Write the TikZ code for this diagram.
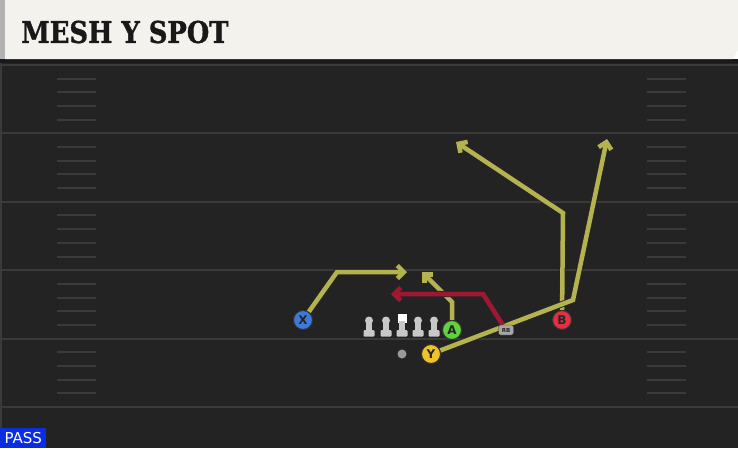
\documentclass[tikz,border=0pt]{standalone}
\usepackage{fontspec}
\usetikzlibrary{arrows.meta}
\newfontfamily\titlefont[BoldFeatures={FakeBold=1.2}]{DejaVu Serif}
\newfontfamily\labelfont{DejaVu Sans}
\newlength{\du}
\setlength{\du}{1pt}
\definecolor{fieldcolor}{RGB}{35,35,35}
\definecolor{headercolor}{RGB}{244,242,236}
\definecolor{yardcolor}{RGB}{58,58,58}
\definecolor{routecolor}{RGB}{181,178,80}
\definecolor{blockcolor}{RGB}{158,24,50}
\definecolor{xplayer}{RGB}{62,122,220}
\definecolor{aplayer}{RGB}{96,210,62}
\definecolor{yplayer}{RGB}{240,194,42}
\definecolor{bplayer}{RGB}{226,48,62}
\definecolor{linemancolor}{RGB}{200,200,200}
\definecolor{passcolor}{RGB}{10,45,224}
\pgfdeclarelayer{field}
\pgfdeclarelayer{routes}
\pgfsetlayers{field,routes,main}

\begin{document}
\begin{tikzpicture}[
  player/.style={circle,draw=black!80,line width=1\du,minimum size=19\du,inner sep=0pt,
    font=\labelfont\bfseries\fontsize{12}{12}\selectfont,text=black!85},
  route/.style={line width=4.5\du,draw=routecolor,line join=miter,
    -{Straight Barb[length=6.5pt,width=13pt]},
    preaction={draw=black!85,line width=6.3\du,-{Straight Barb[length=6.5pt,width=13pt]}}},
  block/.style={route,draw=blockcolor},
  yardline/.style={draw=yardcolor,line width=2\du},
  hashmark/.style={draw=yardcolor,line width=2\du}
]
\pgftransformxscale{1.000000}
\pgftransformyscale{-1.000000}
\useasboundingbox (0\du,0\du) rectangle (738\du,448\du);

\begin{pgfonlayer}{field}
% header
\fill[fieldcolor] (0\du,59\du) rectangle (738\du,448\du);
\fill[black!90] (0\du,59\du) rectangle (738\du,63\du);
\fill[headercolor] (5\du,0\du)--(738\du,0\du)--(738\du,50\du)--(733\du,59\du)--(5\du,59\du)--cycle;
\fill[gray!60] (0\du,0\du) rectangle (5\du,59\du);
\fill[yardcolor] (0\du,63\du) rectangle (1.5\du,448\du);
% yard lines and hashes
\foreach \i in {0,...,5}{
  \draw[yardline] (0\du,65\du+68.4\du*\i)--(738\du,65\du+68.4\du*\i);
}
\foreach \i in {0,...,4}{
  \foreach \k in {1,...,4}{
    \draw[hashmark] (57\du,65\du+68.4\du*\i+13.68\du*\k)--(96\du,65\du+68.4\du*\i+13.68\du*\k);
    \draw[hashmark] (647\du,65\du+68.4\du*\i+13.68\du*\k)--(686\du,65\du+68.4\du*\i+13.68\du*\k);
  }
}
\end{pgfonlayer}

\node[anchor=west,inner sep=0pt,text=black!90,font=\titlefont\bfseries\fontsize{30}{30}\selectfont] (title) at (21\du,32\du)
  {\scalebox{0.86}[1]{MESH Y SPOT}};
\node[anchor=south west,fill=passcolor,text=white,minimum width=46\du,minimum height=20\du,inner sep=0pt,
  font=\labelfont\fontsize{15}{15}\selectfont] (pass) at (0\du,448\du) {PASS};

% offensive line
\foreach \x in {369,386,418,434}{
  \fill[linemancolor] (\x\du,320.5\du) circle (4\du);
}
\fill[white] (397.5\du,314\du) rectangle (406.5\du,323\du);
\foreach \x in {369,386,402,418,434}{
  \fill[linemancolor] (\x\du-2.8\du,321\du) rectangle (\x\du+2.8\du,331\du);
  \fill[linemancolor,rounded corners=1\du] (\x\du-5.5\du,330\du) rectangle (\x\du+5.5\du,336.5\du);
}
\fill[gray!80] (402\du,354\du) circle (4.5\du);

\node[player,fill=xplayer] (X) at (303\du,320\du) {X};
\node[player,fill=aplayer] (A) at (452\du,330\du) {A};
\node[player,fill=yplayer] (Y) at (431\du,354\du) {Y};
\node[player,fill=bplayer] (B) at (562\du,320\du) {B};
\node[draw=black!80,fill=gray!70,rounded corners=2\du,minimum width=15\du,minimum height=10\du,inner sep=0pt,
  font=\labelfont\bfseries\fontsize{5.5}{5.5}\selectfont,text=black!85] (RB) at (506\du,330\du) {RB};

\coordinate (xbreak) at (337\du,272\du);
\coordinate (xend) at (407\du,272\du);
\coordinate (abreak) at (452\du,302\du);
\coordinate (aend) at (422\du,272\du);
\coordinate (ybreak) at (573\du,300\du);
\coordinate (yend) at (607\du,139\du);
\coordinate (bbreak) at (563\du,213\du);
\coordinate (bend) at (456\du,142\du);
\coordinate (rbbreak) at (483\du,294\du);
\coordinate (rbend) at (391\du,294\du);

\begin{pgfonlayer}{routes}
\draw[route] (X)--(xbreak)--(xend);
\draw[route] (A)--(abreak)--(aend);
\draw[route] (B)--(bbreak)--(bend);
\draw[route] (Y)--(ybreak)--(yend);
\draw[block] (RB)--(rbbreak)--(rbend);
\end{pgfonlayer}
\end{tikzpicture}
\end{document}
